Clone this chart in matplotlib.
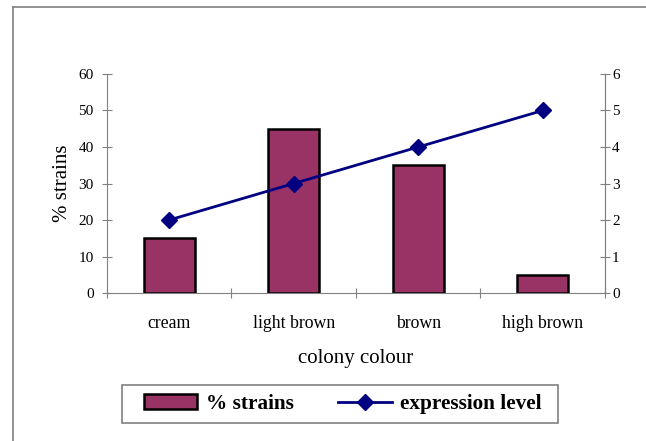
import matplotlib.pyplot as plt
from matplotlib.lines import Line2D
from matplotlib.patches import Patch, Rectangle

categories = ["cream", "light brown", "brown", "high brown"]
pct_strains = [15, 45, 35, 5]
expression_level = [2, 3, 4, 5]

bar_color = "#993366"
line_color = "#000080"
axis_gray = "#808080"

plt.rcParams["font.family"] = ["Liberation Serif", "DejaVu Serif"]

fig = plt.figure(figsize=(6.46, 4.41), dpi=100)
ax = fig.add_axes([0.1656, 0.3356, 0.7709, 0.4966])
ax2 = ax.twinx()

x = list(range(len(categories)))
ax.bar(x, pct_strains, width=0.41, color=bar_color, edgecolor="black", linewidth=1.8, zorder=2)
ax2.plot(x, expression_level, color=line_color, linewidth=2, marker="D", markersize=8.5, zorder=3)

ax.set_xlim(-0.5, len(categories) - 0.5)
ax.set_ylim(0, 60)
ax2.set_ylim(0, 6)
ax.set_yticks(range(0, 61, 10))
ax2.set_yticks(range(0, 7))

# category labels sit between the boundary ticks
ax.set_xticks([i - 0.5 for i in range(len(categories) + 1)])
ax.set_xticklabels([])
ax.set_xticks(x, minor=True)
ax.set_xticklabels(categories, minor=True, fontsize=12.8)
ax.tick_params(axis="x", which="minor", length=0, pad=16)
ax.tick_params(axis="x", which="major", direction="inout", length=7, color=axis_gray)

ax.tick_params(axis="y", direction="inout", length=7, color=axis_gray, labelsize=11, pad=6)
ax2.tick_params(axis="y", direction="inout", length=7, color=axis_gray, labelsize=11, pad=1.5)

for a in (ax, ax2):
    a.spines["top"].set_visible(False)
    for side in ("left", "right", "bottom"):
        a.spines[side].set_color(axis_gray)
ax2.spines["left"].set_visible(False)
ax2.spines["bottom"].set_visible(False)

ax.set_ylabel("% strains", fontsize=15, labelpad=5)
ax.set_xlabel("colony colour", fontsize=15, labelpad=12)

handles = [
    Patch(facecolor=bar_color, edgecolor="black", linewidth=1.8),
    Line2D([], [], color=line_color, linewidth=2, marker="D", markersize=8.5),
]
leg = fig.legend(handles, ["% strains", "expression level"], loc="center",
                 bbox_to_anchor=(0.531, 0.084), ncol=2, frameon=False,
                 prop={"weight": "bold", "size": 15.3}, handlelength=2.5,
                 handletextpad=0.4, columnspacing=2.1)

# legend border box
fig.add_artist(Rectangle((0.1889, 0.0408), 0.6749, 0.0862, transform=fig.transFigure,
                         fill=False, edgecolor=axis_gray, linewidth=1.2))

# outer chart frame (left and top edges)
fig.add_artist(Line2D([0.02, 0.02], [0.0, 0.984], color=axis_gray, linewidth=1.2))
fig.add_artist(Line2D([0.02, 1.0], [0.984, 0.984], color=axis_gray, linewidth=1.2))

fig.savefig("out.png", dpi=100)
